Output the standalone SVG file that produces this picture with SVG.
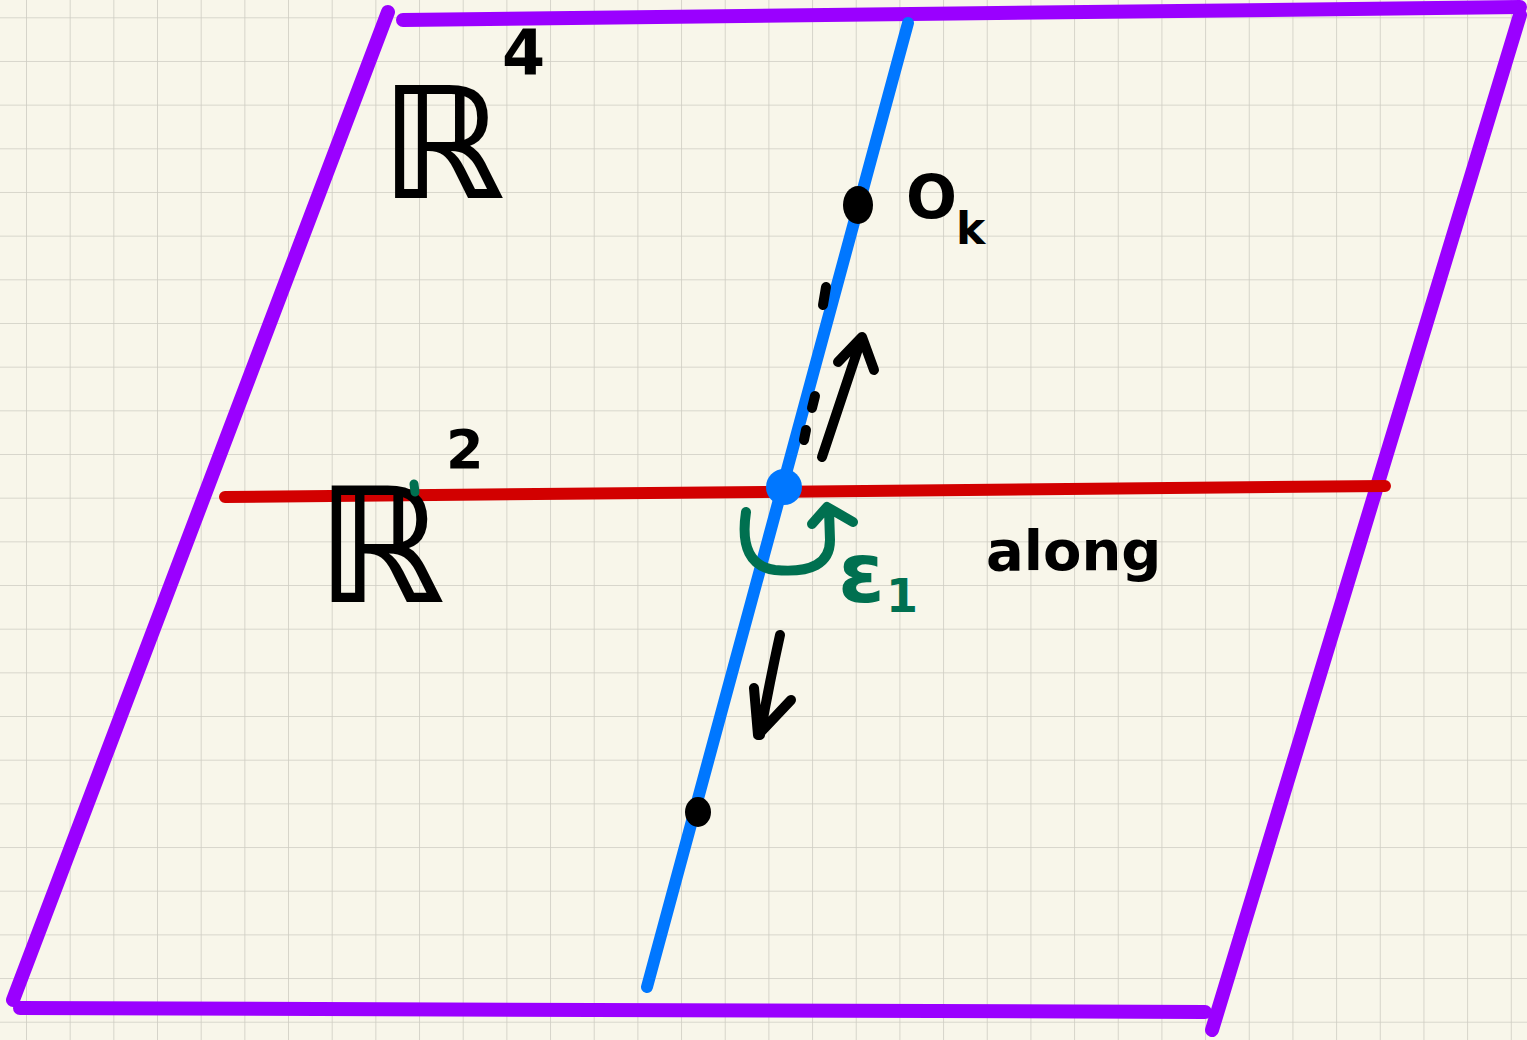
<svg xmlns="http://www.w3.org/2000/svg" width="1527" height="1040" viewBox="0 0 1527 1040">
<defs>
<pattern id="grid" x="26" y="17.3" width="43.67" height="43.67" patternUnits="userSpaceOnUse">
<path d="M0 0H43.67M0 0V43.67" fill="none" stroke="#000" stroke-opacity="0.17" stroke-width="1.6"/>
</pattern>
<style>
.pur{stroke:#9a00ff;stroke-width:14;stroke-linecap:round;fill:none}
.red{stroke:#d20000;stroke-width:12;stroke-linecap:round;fill:none}
.blu{stroke:#0077ff;stroke-width:12;stroke-linecap:round;fill:none}
.ink{stroke:#000;stroke-width:10;stroke-linecap:round;stroke-linejoin:round;fill:none}
.grn{stroke:#007050;stroke-width:10;stroke-linecap:round;stroke-linejoin:round;fill:none}
.t{font-family:"DejaVu Sans",sans-serif;font-weight:bold;fill:#000}
.tg{font-family:"DejaVu Sans",sans-serif;font-weight:bold;fill:#007050}
</style>
</defs>
<rect width="1527" height="1040" fill="#f8f6ea"/>
<rect width="1527" height="1040" fill="url(#grid)"/>
<g id="connectors">
<line class="pur" x1="388" y1="12" x2="13" y2="1000"/>
<line class="pur" x1="403" y1="20" x2="1520" y2="7"/>
<line class="pur" x1="1520" y1="15" x2="1212" y2="1030"/>
<line class="pur" x1="20" y1="1008" x2="1205" y2="1012"/>
<line class="red" x1="225" y1="497" x2="1385" y2="486"/>
<line class="blu" x1="908" y1="23" x2="647" y2="987"/>
<path class="ink" d="M822 457L862 337M838 362L862 337L874 370"/>
<path class="ink" d="M780 635Q770 680 760 735M754 688L758 735L791 700"/>
<path class="ink" d="M826 287L823 305M815 396L812 408M806 430L804 440" stroke-width="6"/>
<path class="grn" d="M746 512Q738 565 775 570Q830 575 830 540L829 510M812 524L827 507L853 522"/>
</g>
<g id="origin"><circle cx="784" cy="487" r="18" fill="#0077ff"/></g>
<g id="point-top"><ellipse cx="858" cy="205" rx="15" ry="19" fill="#000"/></g>
<g id="point-bottom"><ellipse cx="698" cy="812" rx="13" ry="15" fill="#000"/></g>
<g id="label-R4"><text class="t" x="380" y="198" font-size="155">ℝ</text><text class="t" x="502" y="74" font-size="62">4</text></g>
<g id="label-R2"><text class="t" x="316" y="602" font-size="160">ℝ</text><text class="t" x="446" y="468" font-size="54">2</text><line x1="414" y1="484" x2="415" y2="492" stroke="#007050" stroke-width="9" stroke-linecap="round"/></g>
<g id="label-Ok"><text class="t" x="906" y="218" font-size="60">O</text><text class="t" x="956" y="244" font-size="44">k</text></g>
<g id="label-eps"><text class="tg" x="838" y="602" font-size="84">ε</text><text class="tg" x="886" y="612" font-size="46">1</text></g>
<g id="label-along"><text class="t" x="986" y="570" font-size="56">along</text></g>
</svg>
